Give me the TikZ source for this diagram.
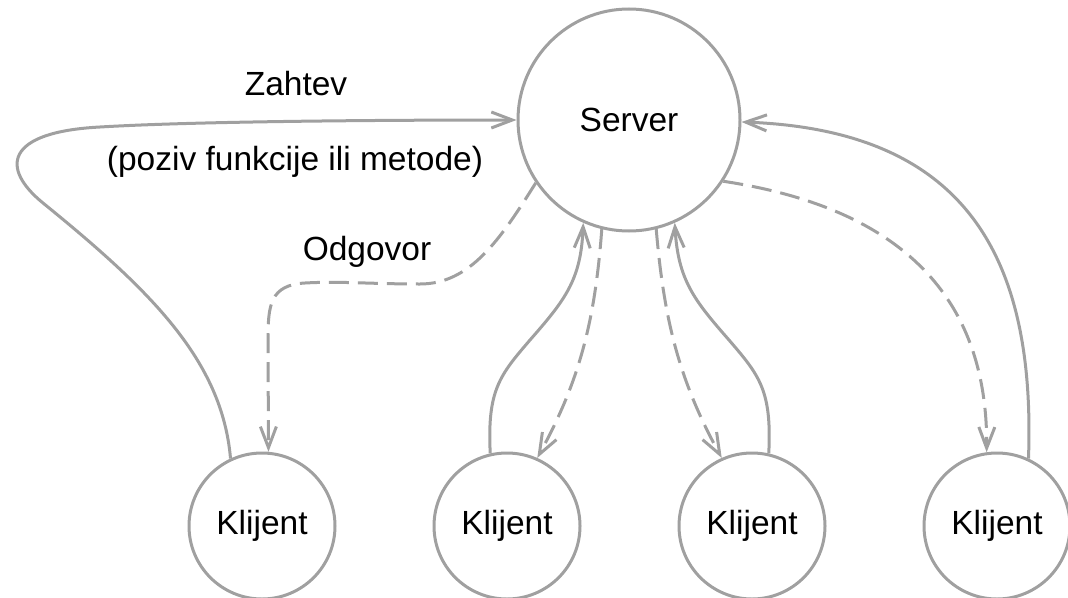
\documentclass[tikz,border=0pt]{standalone}
\usepackage{fontspec}
\setmainfont{Liberation Sans}
\usetikzlibrary{arrows.meta}
\definecolor{edgegray}{RGB}{160,160,160}
\begin{document}
\begin{tikzpicture}[x=1pt,y=-1pt,
  every node/.style={font=\fontsize{33.5}{40}\selectfont},
  peer/.style={circle, draw=edgegray, line width=3pt, minimum size=146pt, inner sep=0pt},
  hub/.style={circle, draw=edgegray, line width=3pt, minimum size=222pt, inner sep=0pt},
  link/.style={draw=edgegray, line width=3pt, -{Straight Barb[length=21pt,width=16pt]}},
  reply/.style={link, dash pattern=on 20pt off 9pt},
  lbl/.style={anchor=base, inner sep=0pt}]
\useasboundingbox (0,0) rectangle (1068,597);

% server and clients
\node[hub] (S) at (629,120) {Server};
\node[peer] (K1) at (262,526) {Klijent};
\node[peer] (K2) at (507,526) {Klijent};
\node[peer] (K3) at (752,526) {Klijent};
\node[peer] (K4) at (997,526) {Klijent};

% labels of the left request/response pair
\node[lbl] (zahtev) at (296,95) {Zahtev};
\node[lbl] (poziv) at (295,170) {(poziv funkcije ili metode)};
\node[lbl] (odgovor) at (367,260) {Odgovor};

% client 1: request loops round the left, response comes back dashed
\draw[link] (K1.115) .. controls (222,360) and (150,290) .. (43,203)
  .. controls (0,168) and (5,132) .. (100,127)
  .. controls (200,121) and (400,120) .. (S.180);
\draw[reply] (S.214) .. controls (500,240) and (470,284) .. (420,284)
  .. controls (370,284) and (340,281) .. (305,283)
  .. controls (270,285) and (268,305) .. (268,340) -- (K1.85);

% client 2
\draw[link] (K2.103) .. controls (487,390) and (500,375) .. (530,340)
  .. controls (565,300) and (581,280) .. (S.246);
\draw[reply] (S.256) .. controls (595,320) and (580,380) .. (K2.66);

% client 3
\draw[reply] (S.284) .. controls (664,320) and (679,380) .. (K3.114);
\draw[link] (K3.77) .. controls (772,390) and (759,375) .. (729,340)
  .. controls (694,300) and (678,280) .. (S.294);

% client 4
\draw[reply] (S.327) .. controls (880,205) and (988,280) .. (K4.98);
\draw[link] (K4.65) .. controls (1036,250) and (960,130) .. (S.359);
\end{tikzpicture}
\end{document}
